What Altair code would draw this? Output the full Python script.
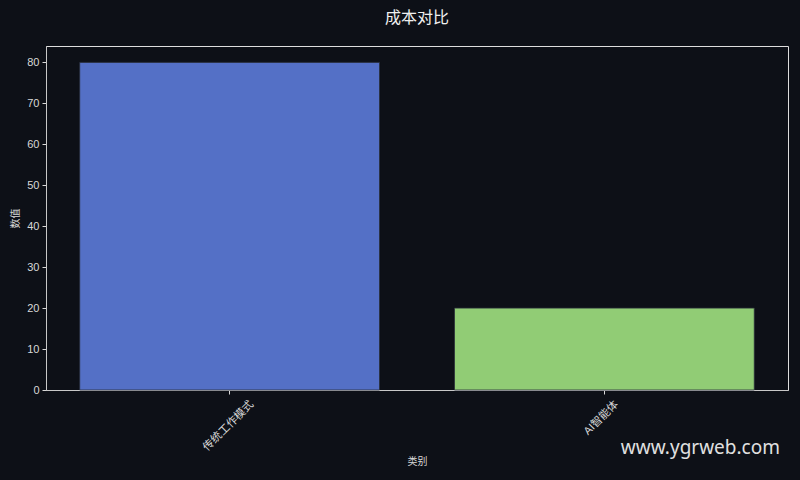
import altair as alt
import pandas as pd
import jinja2

categories = ["传统工作模式", "AI智能体"]
values = [80, 20]
colors = ["#5470c6", "#91cc75"]

df = pd.DataFrame({"类别": categories, "数值": values, "color": colors})

FONT = "Liberation Sans, Noto Sans CJK SC"
BG = "#0d1017"
FG = "#d8d8d8"

bars = alt.Chart(df).mark_bar(stroke="#2a2f3a", strokeWidth=0.8).encode(
    x=alt.X("类别:N", sort=categories,
            scale=alt.Scale(paddingInner=0.2, paddingOuter=0.09),
            axis=alt.Axis(labelAngle=315, labelAlign="right", labelBaseline="top",
                          labelOffset={"condition": {"test": "datum.value === '传统工作模式'", "value": 18},
                                       "value": 8},
                          labelFontSize=11, labelColor=FG, titleFontSize=10,
                          titleFontWeight="normal",
                          titleColor=FG, tickColor=FG, tickSize=4, domainColor="#c8c8c8",
                          titlePadding=4, labelPadding=4)),
    y=alt.Y("数值:Q", scale=alt.Scale(domain=[0, 84], nice=False),
            axis=alt.Axis(values=[0, 10, 20, 30, 40, 50, 60, 70, 80], grid=False,
                          labelFontSize=11, labelColor=FG, titleFontSize=10,
                          titleFontWeight="normal",
                          titleColor=FG, tickColor=FG, tickSize=4, domainColor="#c8c8c8",
                          titlePadding=6, labelPadding=3)),
    color=alt.Color("color:N", scale=None),
)

watermark = alt.Chart(pd.DataFrame({"t": ["www.ygrweb.com"]})).mark_text(
    align="right", baseline="middle", fontSize=19, color="#e0e0e0", font="Noto Sans"
).encode(text="t:N", x=alt.value(734), y=alt.value(402))

chart = alt.layer(bars, watermark).properties(
    width=742, height=344,
    background=BG,
    padding={"left": 38, "top": 38, "right": 4, "bottom": 82},
    autosize=alt.AutoSizeParams(type="none"),
    title=alt.Title("成本对比", fontSize=16, color="#f0f0f0", font=FONT,
                    fontWeight="normal", offset=20, anchor="middle"),
).configure_view(stroke="#c8c8c8", strokeWidth=1).configure(font=FONT)

TEMPLATE = jinja2.Template("""<!DOCTYPE html>
<html>
<head>
  <meta charset="utf-8">
  <style>html, body { background: #0d1017; }</style>
  <script type="text/javascript" src="{{ base_url }}/vega@{{ vega_version }}"></script>
  <script type="text/javascript" src="{{ base_url }}/vega-lite@{{ vegalite_version }}"></script>
  <script type="text/javascript" src="{{ base_url }}/vega-embed@{{ vegaembed_version }}"></script>
</head>
<body>
  <div id="{{ output_div }}"></div>
  <script type="text/javascript">
    var spec = {{ spec }};
    var embedOpt = {{ embed_options }};
    vegaEmbed("#{{ output_div }}", spec, embedOpt).catch(console.error);
  </script>
</body>
</html>
""")

chart.save("out.html", embed_options={"renderer": "svg", "actions": False}, template=TEMPLATE)
